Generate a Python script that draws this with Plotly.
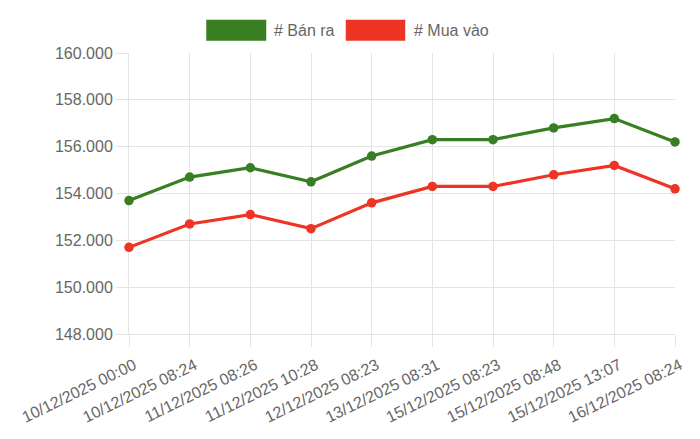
import plotly.graph_objects as go

# thoi diem cap nhat gia
labels = [
    "10/12/2025 00:00", "10/12/2025 08:24", "11/12/2025 08:26", "11/12/2025 10:28",
    "12/12/2025 08:23", "13/12/2025 08:31", "15/12/2025 08:23", "15/12/2025 08:48",
    "15/12/2025 13:07", "16/12/2025 08:24",
]
ban_ra = [153700, 154700, 155100, 154500, 155600, 156300, 156300, 156800, 157200, 156200]
mua_vao = [151700, 152700, 153100, 152500, 153600, 154300, 154300, 154800, 155200, 154200]

series_names = ["# Bán ra", "# Mua vào"]
colors = ["#387e22", "#ee3424"]

# page body has an 8px margin, so the figure is shrunk to fit the window
OFF = 8
W, H = 700 - OFF, 439 - OFF
L, R, T, B = 129 - OFF, 25, 53 - OFF, 105  # plot area in px
pw, ph = W - L - R, H - T - B


def px_x(x):
    return (x - OFF - L) / pw


def px_y(y):
    return (H - B - (y - OFF)) / ph


grid = "#e4e4e4"
txt = "#666666"
font = "Liberation Sans, Arial, sans-serif"

fig = go.Figure()
for name, vals, c in zip(series_names, [ban_ra, mua_vao], colors):
    fig.add_trace(go.Scatter(
        x=labels, y=vals, name=name, mode="lines+markers",
        line=dict(color=c, width=3.2),
        marker=dict(color=c, size=9.5),
        cliponaxis=False,
    ))

# legend drawn by hand: chart.js style wide boxes
legend_items = [(206.5, 266, 272), (346, 405, 411.5)]
for (bx0, bx1, tx), name, c in zip(legend_items, series_names, colors):
    fig.add_shape(type="rect", xref="paper", yref="paper",
                  x0=px_x(bx0), x1=px_x(bx1), y0=px_y(40.5), y1=px_y(20),
                  fillcolor=c, line=dict(color=c, width=0.5))
    fig.add_annotation(text=name, xref="paper", yref="paper",
                       x=px_x(tx), y=px_y(30.5), xanchor="left", yanchor="middle",
                       showarrow=False, font=dict(size=16, color=txt, family=font))

fig.update_layout(
    width=W, height=H,
    margin=dict(l=L, r=R, t=T, b=B),
    paper_bgcolor="white", plot_bgcolor="white",
    showlegend=False,
    separators=",.",
    font=dict(family=font, size=16, color=txt),
)
fig.update_xaxes(
    type="category", range=[0, len(labels) - 1],
    showgrid=True, gridcolor=grid, gridwidth=1,
    showline=True, linecolor=grid, linewidth=1,
    ticks="outside", ticklen=12, tickcolor=grid,
    tickangle=-26, tickfont=dict(size=16, color=txt),
    ticklabelshift=5, ticklabelstandoff=3,
    layer="below traces", automargin=False,
)
fig.update_yaxes(
    range=[148000, 160000], dtick=2000, tickformat=",d",
    showgrid=True, gridcolor=grid, gridwidth=1,
    showline=True, linecolor=grid, linewidth=1,
    ticks="outside", ticklen=12, tickcolor=grid,
    zeroline=False, tickfont=dict(size=16, color=txt),
    layer="below traces", automargin=False,
)

fig.write_html("out.html")
